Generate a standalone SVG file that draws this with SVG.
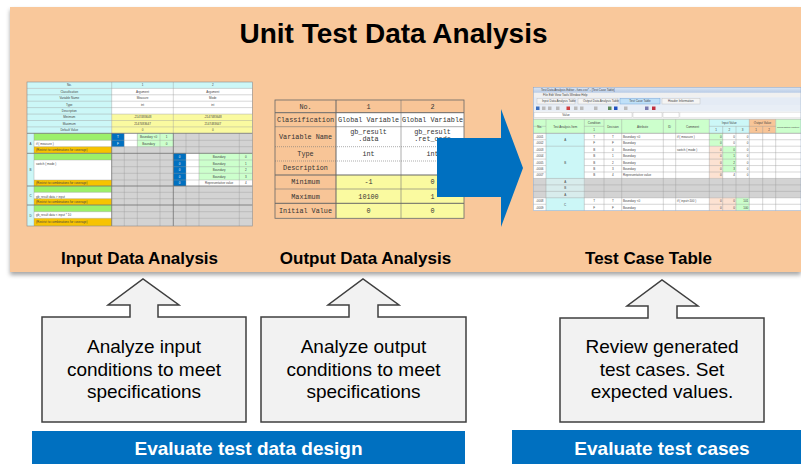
<svg xmlns="http://www.w3.org/2000/svg" width="801" height="464" viewBox="0 0 801 464">
<defs>
<filter id="sh" x="-3%" y="-5%" width="106%" height="115%"><feDropShadow dx="0" dy="3" stdDeviation="2" flood-color="#000" flood-opacity="0.35"/></filter>
<linearGradient id="tb" x1="0" y1="0" x2="0" y2="1"><stop offset="0" stop-color="#dbe6f4"/><stop offset="1" stop-color="#b8cbe6"/></linearGradient>
</defs>
<style>
.ttl{font-family:"Liberation Sans",Arial,sans-serif;font-weight:bold;font-size:28px;fill:#000;text-anchor:middle}
.lbl{font-family:"Liberation Sans",Arial,sans-serif;font-weight:bold;font-size:17px;fill:#000;text-anchor:middle}
.box{fill:#F2F2F2;stroke:#3F3F3F;stroke-width:1.5}
.bt{font-family:"Liberation Sans",Arial,sans-serif;font-size:19px;fill:#000;text-anchor:middle}
.bar{fill:#0070C0}
.bart{font-family:"Liberation Sans",Arial,sans-serif;font-weight:bold;font-size:19px;fill:#fff;text-anchor:middle}
.s{font-family:"Liberation Sans",Arial,sans-serif;font-size:3px;fill:#444}
.c{text-anchor:middle}
.r{text-anchor:end}
.wt{fill:#fff}
.m{font-family:"Liberation Mono","Courier New",monospace;font-size:6.8px;fill:#333;text-anchor:middle}
.g{stroke:#9a9a9a;stroke-width:0.4;fill:none}
.gk{stroke:#707070;stroke-width:0.8;fill:none}
.cy{fill:#CCF7F7}
.ye{fill:#FAFAA0}
.gr{fill:#9CF06A}
.go{fill:#F7C300}
.lg{fill:#CCFFCC}
.bl{fill:#0070C0}
.gy{fill:#D3D3D3}
.sa{fill:#FCE2D2}
.or{fill:#F8C597}
</style>

<rect id="background" x="10" y="7" width="791" height="265" fill="#F9C89B" filter="url(#sh)"/>

<g id="title"><text class="ttl" x="393.5" y="43">Unit Test Data Analysis</text></g>

<!-- Input Data Analysis screenshot -->
<g id="input-table">
<rect x="27" y="82" width="225.3" height="144" fill="#fff"/>
<rect class="cy" x="27" y="82" width="225.3" height="6.4"/>
<rect class="cy" x="27" y="88.4" width="84.7" height="44.9"/>
<rect class="ye" x="111.7" y="114.1" width="140.6" height="19.2"/>
<rect class="cy" x="27" y="133.3" width="7" height="92.7"/>
<rect class="gy" x="111.7" y="133.3" width="140.6" height="92.7"/>
<rect class="gr" x="34" y="133.3" width="77.7" height="7"/>
<rect class="go" x="34" y="146.7" width="77.7" height="6.6"/>
<rect class="bl" x="111.7" y="133.3" width="12.6" height="13.4"/>
<rect fill="#fff" x="124.3" y="133.3" width="13" height="13.4"/>
<rect class="lg" x="137.3" y="133.3" width="36" height="13.4"/>
<rect class="gr" x="34" y="153.3" width="77.7" height="6.7"/>
<rect class="go" x="34" y="180" width="77.7" height="6"/>
<rect class="bl" x="173.3" y="153.3" width="12.7" height="32.7"/>
<rect fill="#fff" x="186" y="153.3" width="13" height="32.7"/>
<rect class="lg" x="199" y="153.3" width="53.3" height="26.7"/>
<rect fill="#fff" x="199" y="180" width="53.3" height="6"/>
<rect class="gr" x="34" y="186" width="77.7" height="6.3"/>
<rect class="go" x="34" y="198.7" width="77.7" height="6.3"/>
<rect class="gr" x="34" y="205" width="77.7" height="6.7"/>
<rect class="go" x="34" y="218.3" width="77.7" height="7.7"/>
<path class="g" d="M27,88.4H252.3M27,94.8H252.3M27,101.2H252.3M27,107.6H252.3M27,114.1H252.3M27,120.5H252.3M27,126.9H252.3M111.7,82V133.3M173.3,82V133.3
M124.3,133.3V226M137.3,133.3V226M160,133.3V226M186,133.3V226M199,133.3V226M239.3,133.3V226M34,133.3V226
M34,140.3H252.3M34,146.7H252.3M111.7,160H252.3M111.7,166.7H252.3M111.7,173.3H252.3M34,160H111.7M34,180H252.3
M34,192.3H252.3M34,198.7H252.3M34,211.7H252.3M34,218.3H252.3"/>
<path class="gk" d="M27,133.3H252.3M27,153.3H252.3M27,186H252.3M27,205H252.3M111.7,133.3V226M173.3,133.3V226"/>
<rect x="27" y="82" width="225.3" height="144" fill="none" stroke="#8a8a8a" stroke-width="0.6"/>
<g class="s">
<text class="c" x="69.3" y="86.3">No.</text><text class="c" x="142.5" y="86.3">1</text><text class="c" x="212.8" y="86.3">2</text>
<text class="c" x="69.3" y="92.7">Classification</text><text class="c" x="142.5" y="92.7">Argument</text><text class="c" x="212.8" y="92.7">Argument</text>
<text class="c" x="69.3" y="99.1">Variable Name</text><text class="c" x="142.5" y="99.1">Measure</text><text class="c" x="212.8" y="99.1">Mode</text>
<text class="c" x="69.3" y="105.5">Type</text><text class="c" x="142.5" y="105.5">int</text><text class="c" x="212.8" y="105.5">int</text>
<text class="c" x="69.3" y="111.9">Description</text>
<text class="c" x="69.3" y="118.4">Minimum</text><text class="c" x="142.5" y="118.4">-2147483648</text><text class="c" x="212.8" y="118.4">-2147483648</text>
<text class="c" x="69.3" y="124.8">Maximum</text><text class="c" x="142.5" y="124.8">2147483647</text><text class="c" x="212.8" y="124.8">2147483647</text>
<text class="c" x="69.3" y="131.2">Default Value</text><text class="c" x="142.5" y="131.2">0</text><text class="c" x="212.8" y="131.2">0</text>
<text class="c" x="30.5" y="144.5">A</text><text class="c" x="30.5" y="170.8">B</text><text class="c" x="30.5" y="196.7">C</text><text class="c" x="30.5" y="216.7">D</text>
<text x="36" y="144.7">if ( measure )</text>
<text x="36" y="151.2">(Restrict to combinations for coverage)</text>
<text x="36" y="164.6">switch ( mode )</text>
<text x="36" y="184.2">(Restrict to combinations for coverage)</text>
<text x="36" y="197.5">gb_result data &gt; input</text>
<text x="36" y="203">(Restrict to combinations for coverage)</text>
<text x="36" y="216.3">gb_result data &lt; input * 10</text>
<text x="36" y="223.3">(Restrict to combinations for coverage)</text>
<text class="c wt" x="118" y="138">T</text><text class="c wt" x="118" y="144.7">F</text>
<text class="c" x="148.6" y="138">Boundary &lt;0</text><text class="c" x="166.6" y="138">1</text>
<text class="c" x="148.6" y="144.7">Boundary</text><text class="c" x="166.6" y="144.7">0</text>
<text class="c wt" x="179.6" y="157.9">0</text><text class="c wt" x="179.6" y="164.6">0</text><text class="c wt" x="179.6" y="171.2">0</text><text class="c wt" x="179.6" y="177.9">0</text><text class="c wt" x="179.6" y="184.2">0</text>
<text class="c" x="219.1" y="157.9">Boundary</text><text class="c" x="219.1" y="164.6">Boundary</text><text class="c" x="219.1" y="171.2">Boundary</text><text class="c" x="219.1" y="177.9">Boundary</text><text class="c" x="219.1" y="184.2">Representative value</text>
<text class="c" x="245.8" y="157.9">0</text><text class="c" x="245.8" y="164.6">1</text><text class="c" x="245.8" y="171.2">2</text><text class="c" x="245.8" y="177.9">3</text><text class="c" x="245.8" y="184.2">4</text>
</g>
</g>

<!-- Output Data Analysis screenshot -->
<g id="output-table">
<rect x="275" y="100" width="189" height="118.3" fill="#fff"/>
<rect class="or" x="275" y="100" width="189" height="12.7"/>
<rect class="or" x="275" y="112.7" width="61" height="105.6"/>
<rect class="ye" x="336" y="175" width="128" height="43.3"/>
<path class="g" style="stroke:#777;stroke-width:0.6" d="M275,126.7H464M275,189H464M401,100V218.3"/>
<path class="g" style="stroke:#777;stroke-width:0.6;stroke-dasharray:1,1" d="M275,146.7H464M275,161H464"/>
<path class="gk" style="stroke:#666;stroke-width:1" d="M275,112.7H464M275,175H464M275,203.3H464M336,100V218.3"/>
<rect x="275" y="100" width="189" height="118.3" fill="none" stroke="#666" stroke-width="0.8"/>
<g class="m">
<text x="305.5" y="108.6">No.</text><text x="368.5" y="108.6">1</text><text x="432.5" y="108.6">2</text>
<text x="305.5" y="122">Classification</text><text x="368.5" y="122">Global Variable</text><text x="432.5" y="122">Global Variable</text>
<text x="305.5" y="139">Variable Name</text><text x="368.5" y="133.6">gb_result</text><text x="368.5" y="140.6">.data</text><text x="432.5" y="133.6">gb_result</text><text x="432.5" y="140.6">.ret_code</text>
<text x="305.5" y="156.1">Type</text><text x="368.5" y="156.1">int</text><text x="432.5" y="156.1">int</text>
<text x="305.5" y="170.3">Description</text>
<text x="305.5" y="184.3">Minimum</text><text x="368.5" y="184.3">-1</text><text x="432.5" y="184.3">0</text>
<text x="305.5" y="198.5">Maximum</text><text x="368.5" y="198.5">10100</text><text x="432.5" y="198.5">1</text>
<text x="305.5" y="213.1">Initial Value</text><text x="368.5" y="213.1">0</text><text x="432.5" y="213.1">0</text>
</g>
</g>

<!-- Test Case Table screenshot -->
<g id="testcase-table">
<rect x="533.3" y="87.3" width="267.7" height="123.4" fill="#F0F0F0"/>
<rect x="533.3" y="87.3" width="267.7" height="5.4" fill="url(#tb)"/>
<rect x="533.3" y="97.3" width="267.7" height="7.7" fill="#E4EBF5"/>
<rect x="537" y="98.3" width="38" height="5.7" fill="#F4F4F4" stroke="#aaa" stroke-width="0.3"/>
<rect x="578" y="98.3" width="40" height="5.7" fill="#F4F4F4" stroke="#aaa" stroke-width="0.3"/>
<rect x="620" y="98.3" width="40" height="5.7" fill="#BFE0F8" stroke="#6a9ad0" stroke-width="0.4"/>
<rect x="662" y="98.3" width="38" height="5.7" fill="#F4F4F4" stroke="#aaa" stroke-width="0.3"/>
<rect x="533.3" y="105" width="267.7" height="6.7" fill="#E8EEF6"/>
<rect x="536" y="106.5" width="3.5" height="3.5" fill="#3a6fc0"/>
<rect x="542" y="106.5" width="3.5" height="3.5" fill="#bbb"/>
<rect x="548" y="106.5" width="3.5" height="3.5" fill="#bbb"/>
<rect x="556" y="106.5" width="3.5" height="3.5" fill="#bbb"/>
<rect x="566.5" y="106.5" width="3.5" height="3.5" fill="#d04040"/>
<rect x="574" y="106.5" width="3.5" height="3.5" fill="#bbb"/>
<rect x="580" y="106.5" width="3.5" height="3.5" fill="#bbb"/>
<rect x="594" y="106.5" width="3.5" height="3.5" fill="#bbb"/>
<rect x="608" y="106.5" width="3.5" height="3.5" fill="#5a8a5a"/>
<rect x="614" y="106.5" width="3.5" height="3.5" fill="#2050c0"/>
<rect x="624" y="106.5" width="3.5" height="3.5" fill="#bbb"/>
<rect x="645" y="106.5" width="3.5" height="3.5" fill="#7a7ab0"/>
<rect x="652" y="106.5" width="3.5" height="3.5" fill="#c03040"/>
<rect x="533.3" y="111.7" width="267.7" height="7" fill="#F4F4F4"/>
<rect x="534" y="112.5" width="98" height="5" fill="#fff" stroke="#aaa" stroke-width="0.3"/>
<rect x="633" y="112.5" width="29" height="5" fill="#fff" stroke="#aaa" stroke-width="0.3"/>
<rect x="663" y="112.5" width="16" height="5" fill="#fff" stroke="#aaa" stroke-width="0.3"/>
<rect x="680" y="112.5" width="121" height="5" fill="#fff" stroke="#ccc" stroke-width="0.3"/>
<rect class="lg" x="533.3" y="119.3" width="175.9" height="14"/>
<rect class="cy" x="709.3" y="119.3" width="40" height="14"/>
<rect class="or" x="749.3" y="119.3" width="26.4" height="14"/>
<rect class="lg" x="775.7" y="119.3" width="25.3" height="14"/>
<rect x="533.3" y="133.3" width="267.7" height="77.4" fill="#fff"/>
<rect class="cy" x="546" y="133.3" width="38.3" height="77.4"/>
<rect class="gy" x="533.3" y="178.45" width="12.7" height="19.35"/>
<rect class="gy" x="584.3" y="178.45" width="216.7" height="19.35"/>
<rect fill="#D8ECEC" x="546" y="178.45" width="38.3" height="19.35"/>
<rect class="lg" x="709.3" y="133.3" width="13.4" height="12.9"/>
<rect class="sa" x="709.3" y="146.2" width="13.4" height="32.25"/>
<rect class="sa" x="709.3" y="197.8" width="26.7" height="12.9"/>
<rect class="lg" x="722.7" y="146.2" width="13.3" height="25.8"/>
<rect class="lg" x="736" y="197.8" width="13.3" height="12.9"/>
<path class="g" d="M533.3,126.3H546M584.3,126.3H604M709.3,126.3H775.7
M546,119.3V210.7M584.3,119.3V210.7M604,119.3V210.7M621.7,119.3V210.7M663.3,119.3V210.7M675.7,119.3V210.7M709.3,119.3V210.7M722.7,126.3V210.7M736,126.3V210.7M749.3,119.3V210.7M762.7,126.3V210.7M775.7,119.3V210.7
M533.3,139.75H546M584.3,139.75H801M533.3,146.2H801M533.3,152.65H546M584.3,152.65H801M533.3,159.1H546M584.3,159.1H801M533.3,165.55H546M584.3,165.55H801M533.3,172H546M584.3,172H801
M533.3,178.45H801M533.3,184.9H801M533.3,191.35H801M533.3,197.8H801M533.3,204.25H546M584.3,204.25H801M533.3,119.3H801"/>
<path class="gk" style="stroke:#8a8a8a;stroke-width:0.6" d="M533.3,133.3H801"/>
<rect x="533.3" y="87.3" width="267.7" height="123.4" fill="none" stroke="#8aa0c0" stroke-width="0.5"/>
<g class="s">
<text x="541" y="91.3">Test Data Analysis Editor - func.csv* - [Test Case Table]</text>
<text x="543" y="96.2">File    Edit    View    Tools    Window    Help</text>
<text x="542" y="102.2">Input Data Analysis Table</text>
<text x="583" y="102.2">Output Data Analysis Table</text>
<text class="c" x="640" y="102.2">Test Case Table</text>
<text x="668" y="102.2">Header Information</text>
<text class="c" x="566" y="116">Value</text>
<text class="c" x="539.7" y="127.5">No.</text>
<text class="c" x="565.2" y="127.5">Test Analysis Item</text>
<text class="c" x="594.2" y="124">Condition</text><text class="c" x="594.2" y="131">1</text>
<text class="c" x="612.9" y="127.5">Decision</text>
<text class="c" x="642.5" y="127.5">Attribute</text>
<text class="c" x="669.5" y="127.5">ID</text>
<text class="c" x="692.5" y="127.5">Comment</text>
<text class="c" x="729.3" y="124">Input Value</text>
<text class="c" x="716" y="131">1</text><text class="c" x="729.4" y="131">2</text><text class="c" x="742.7" y="131">3</text>
<text class="c" x="762.5" y="124">Output Value</text>
<text class="c" x="756" y="131">1</text><text class="c" x="769.2" y="131">2</text>
<text x="777" y="127.5" style="font-size:2.4px">Confirmation content</text>
<text class="c" x="539.7" y="137.7">-0001</text><text class="c" x="539.7" y="144.15">-0002</text><text class="c" x="539.7" y="150.6">-0003</text><text class="c" x="539.7" y="157.05">-0004</text><text class="c" x="539.7" y="163.5">-0005</text><text class="c" x="539.7" y="169.95">-0006</text><text class="c" x="539.7" y="176.4">-0007</text><text class="c" x="539.7" y="202.2">-0008</text><text class="c" x="539.7" y="208.65">-0009</text>
<text class="c" x="565.2" y="141">A</text><text class="c" x="565.2" y="163.5">B</text><text class="c" x="565.2" y="182.85">A</text><text class="c" x="565.2" y="189.3">B</text><text class="c" x="565.2" y="195.75">A</text><text class="c" x="565.2" y="205.5">C</text>
<text class="c" x="594.2" y="137.7">T</text><text class="c" x="594.2" y="144.15">F</text><text class="c" x="594.2" y="150.6">B</text><text class="c" x="594.2" y="157.05">B</text><text class="c" x="594.2" y="163.5">B</text><text class="c" x="594.2" y="169.95">B</text><text class="c" x="594.2" y="176.4">B</text><text class="c" x="594.2" y="202.2">T</text><text class="c" x="594.2" y="208.65">F</text>
<text class="c" x="612.9" y="137.7">T</text><text class="c" x="612.9" y="144.15">F</text><text class="c" x="612.9" y="150.6">0</text><text class="c" x="612.9" y="157.05">1</text><text class="c" x="612.9" y="163.5">2</text><text class="c" x="612.9" y="169.95">3</text><text class="c" x="612.9" y="176.4">4</text><text class="c" x="612.9" y="202.2">T</text><text class="c" x="612.9" y="208.65">F</text>
<text x="623" y="137.7">Boundary &lt;0</text><text x="623" y="144.15">Boundary</text><text x="623" y="150.6">Boundary</text><text x="623" y="157.05">Boundary</text><text x="623" y="163.5">Boundary</text><text x="623" y="169.95">Boundary</text><text x="623" y="176.4">Representative value</text><text x="623" y="202.2">Boundary &lt;0</text><text x="623" y="208.65">Boundary</text>
<text x="677" y="137.7">if ( measure )</text><text x="677" y="150.6">switch ( mode )</text><text x="677" y="202.2">if ( input&lt;100 )</text>
<text class="r" x="721.7" y="137.7">0</text><text class="r" x="721.7" y="144.15">0</text><text class="r" x="721.7" y="150.6">0</text><text class="r" x="721.7" y="157.05">0</text><text class="r" x="721.7" y="163.5">0</text><text class="r" x="721.7" y="169.95">0</text><text class="r" x="721.7" y="176.4">0</text><text class="r" x="721.7" y="202.2">0</text><text class="r" x="721.7" y="208.65">0</text>
<text class="r" x="735" y="137.7">0</text><text class="r" x="735" y="144.15">0</text><text class="r" x="735" y="150.6">0</text><text class="r" x="735" y="157.05">1</text><text class="r" x="735" y="163.5">2</text><text class="r" x="735" y="169.95">3</text><text class="r" x="735" y="176.4">4</text><text class="r" x="735" y="202.2">0</text><text class="r" x="735" y="208.65">0</text>
<text class="r" x="748.3" y="137.7">0</text><text class="r" x="748.3" y="144.15">0</text><text class="r" x="748.3" y="150.6">0</text><text class="r" x="748.3" y="157.05">0</text><text class="r" x="748.3" y="163.5">0</text><text class="r" x="748.3" y="169.95">0</text><text class="r" x="748.3" y="176.4">0</text><text class="r" x="748.3" y="202.2">101</text><text class="r" x="748.3" y="208.65">100</text>
</g>
</g>

<g id="labels">
<text class="lbl" x="139.5" y="264">Input Data Analysis</text>
<text class="lbl" x="365.5" y="264">Output Data Analysis</text>
<text class="lbl" x="648.5" y="264">Test Case Table</text>
</g>

<g id="connectors">
<path d="M437,138H501V109L523,168L501,227V197H437Z" fill="#0070C0"/>
</g>

<g id="box-input">
<path class="box" d="M42,317H130V305H108L143,279L179,305H158V317H246V422H42Z"/>
<text class="bt" x="144" y="353">Analyze input</text>
<text class="bt" x="144" y="375.7">conditions to meet</text>
<text class="bt" x="144" y="398.4">specifications</text>
</g>
<g id="box-output">
<path class="box" d="M261,317H349V305H328L363,279L399,305H378V317H466V422H261Z"/>
<text class="bt" x="363.5" y="353">Analyze output</text>
<text class="bt" x="363.5" y="375.7">conditions to meet</text>
<text class="bt" x="363.5" y="398.4">specifications</text>
</g>
<g id="box-review">
<path class="box" d="M560,318H648V306H627L662,280L698,306H677V318H764V422H560Z"/>
<text class="bt" x="662" y="353">Review generated</text>
<text class="bt" x="662" y="375.7">test cases. Set</text>
<text class="bt" x="662" y="398.4">expected values.</text>
</g>

<g id="bar-design">
<rect class="bar" x="32" y="431" width="433" height="33"/>
<text class="bart" x="248.5" y="455">Evaluate test data design</text>
</g>
<g id="bar-cases">
<rect class="bar" x="512" y="430" width="289" height="34"/>
<text class="bart" x="662" y="455">Evaluate test cases</text>
</g>
</svg>
